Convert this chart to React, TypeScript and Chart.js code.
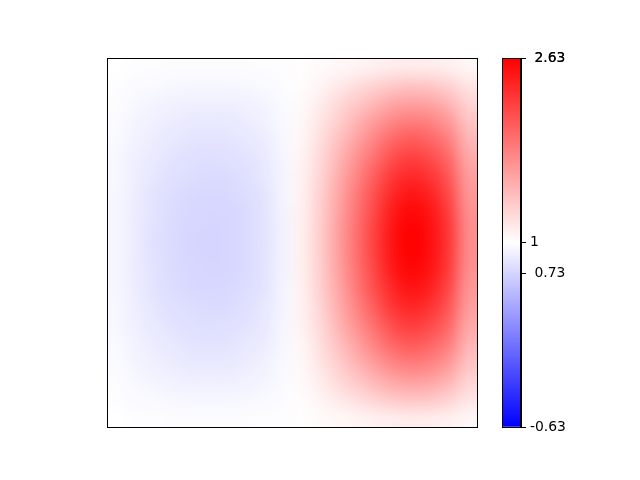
import React, { useEffect, useRef } from "react";
import { Chart, registerables } from "chart.js";

Chart.register(...registerables);

// Colour normalisation (two-slope: blue -> white at 1 -> red)
const VMIN = -0.63;
const VCENTER = 1;
const VMAX = 2.63;

// Field values, rows top -> bottom, columns left -> right (20 x 20)
const zRows: number[][] = [
  [1.00, 0.99, 0.99, 0.98, 0.98, 0.98, 0.98, 0.98, 0.99, 0.99, 1.01, 1.03, 1.05, 1.07, 1.10, 1.12, 1.13, 1.12, 1.10, 1.06],
  [0.99, 0.97, 0.96, 0.95, 0.94, 0.94, 0.94, 0.95, 0.96, 0.98, 1.02, 1.07, 1.14, 1.22, 1.29, 1.35, 1.38, 1.36, 1.29, 1.17],
  [0.98, 0.95, 0.93, 0.91, 0.90, 0.90, 0.90, 0.91, 0.93, 0.97, 1.04, 1.12, 1.24, 1.36, 1.47, 1.58, 1.62, 1.59, 1.48, 1.28],
  [0.97, 0.93, 0.90, 0.88, 0.86, 0.86, 0.86, 0.88, 0.91, 0.96, 1.05, 1.17, 1.32, 1.49, 1.65, 1.79, 1.85, 1.80, 1.66, 1.39],
  [0.96, 0.92, 0.88, 0.85, 0.83, 0.82, 0.83, 0.85, 0.88, 0.95, 1.06, 1.21, 1.40, 1.60, 1.81, 1.99, 2.06, 1.99, 1.82, 1.48],
  [0.95, 0.90, 0.86, 0.82, 0.80, 0.79, 0.80, 0.82, 0.86, 0.94, 1.08, 1.24, 1.47, 1.71, 1.94, 2.16, 2.24, 2.16, 1.96, 1.56],
  [0.95, 0.89, 0.84, 0.80, 0.78, 0.77, 0.77, 0.80, 0.85, 0.93, 1.09, 1.27, 1.53, 1.79, 2.06, 2.30, 2.39, 2.30, 2.07, 1.63],
  [0.94, 0.88, 0.82, 0.78, 0.76, 0.75, 0.76, 0.78, 0.83, 0.93, 1.09, 1.30, 1.57, 1.86, 2.15, 2.40, 2.51, 2.41, 2.16, 1.68],
  [0.94, 0.87, 0.82, 0.77, 0.75, 0.74, 0.74, 0.77, 0.83, 0.92, 1.10, 1.31, 1.60, 1.90, 2.21, 2.48, 2.59, 2.49, 2.23, 1.72],
  [0.94, 0.87, 0.81, 0.77, 0.74, 0.73, 0.74, 0.77, 0.82, 0.92, 1.10, 1.32, 1.62, 1.93, 2.24, 2.52, 2.63, 2.53, 2.26, 1.74],
  [0.94, 0.87, 0.81, 0.77, 0.74, 0.73, 0.74, 0.77, 0.82, 0.92, 1.10, 1.32, 1.62, 1.93, 2.24, 2.52, 2.63, 2.53, 2.26, 1.74],
  [0.94, 0.87, 0.82, 0.77, 0.75, 0.74, 0.74, 0.77, 0.83, 0.92, 1.10, 1.31, 1.60, 1.90, 2.21, 2.48, 2.59, 2.49, 2.23, 1.72],
  [0.94, 0.88, 0.82, 0.78, 0.76, 0.75, 0.76, 0.78, 0.83, 0.93, 1.09, 1.30, 1.57, 1.86, 2.15, 2.40, 2.51, 2.41, 2.16, 1.68],
  [0.95, 0.89, 0.84, 0.80, 0.78, 0.77, 0.77, 0.80, 0.85, 0.93, 1.09, 1.27, 1.53, 1.79, 2.06, 2.30, 2.39, 2.30, 2.07, 1.63],
  [0.95, 0.90, 0.86, 0.82, 0.80, 0.79, 0.80, 0.82, 0.86, 0.94, 1.08, 1.24, 1.47, 1.71, 1.94, 2.16, 2.24, 2.16, 1.96, 1.56],
  [0.96, 0.92, 0.88, 0.85, 0.83, 0.82, 0.83, 0.85, 0.88, 0.95, 1.06, 1.21, 1.40, 1.60, 1.81, 1.99, 2.06, 1.99, 1.82, 1.48],
  [0.97, 0.93, 0.90, 0.88, 0.86, 0.86, 0.86, 0.88, 0.91, 0.96, 1.05, 1.17, 1.32, 1.49, 1.65, 1.79, 1.85, 1.80, 1.66, 1.39],
  [0.98, 0.95, 0.93, 0.91, 0.90, 0.90, 0.90, 0.91, 0.93, 0.97, 1.04, 1.12, 1.24, 1.36, 1.47, 1.58, 1.62, 1.59, 1.48, 1.28],
  [0.99, 0.97, 0.96, 0.95, 0.94, 0.94, 0.94, 0.95, 0.96, 0.98, 1.02, 1.07, 1.14, 1.22, 1.29, 1.35, 1.38, 1.36, 1.29, 1.17],
  [1.00, 0.99, 0.99, 0.98, 0.98, 0.98, 0.98, 0.98, 0.99, 0.99, 1.01, 1.03, 1.05, 1.07, 1.10, 1.12, 1.13, 1.12, 1.10, 1.06],
];

// Colorbar ticks
const cbTickValues = [-0.63, 0.73, 1, 2.63, 2.63];
const cbTickLabels = ["-0.63", " 0.73", "1", " 2.63", " 2.63"];

const FONT = { family: "'DejaVu Sans', sans-serif", size: 13.9 };

function norm(v: number): number {
  if (v < VCENTER) return 0.5 * (v - VMIN) / (VCENTER - VMIN);
  return 0.5 + 0.5 * (v - VCENTER) / (VMAX - VCENTER);
}

function bwr(t: number): [number, number, number] {
  const c = Math.max(0, Math.min(1, t));
  if (c < 0.5) {
    const s = c / 0.5;
    return [Math.round(255 * s), Math.round(255 * s), 255];
  }
  const s = (c - 0.5) / 0.5;
  return [255, Math.round(255 * (1 - s)), Math.round(255 * (1 - s))];
}

const heatmapPlugin = {
  id: "heatmap",
  beforeDatasetsDraw(chart: any) {
    const { ctx, chartArea, scales } = chart;
    const nRows = zRows.length;
    const nCols = zRows[0].length;
    const off = document.createElement("canvas");
    off.width = nCols;
    off.height = nRows;
    const octx = off.getContext("2d")!;
    const img = octx.createImageData(nCols, nRows);
    for (let r = 0; r < nRows; r++) {
      for (let c = 0; c < nCols; c++) {
        const [R, G, B] = bwr(norm(zRows[r][c]));
        const i = (r * nCols + c) * 4;
        img.data[i] = R;
        img.data[i + 1] = G;
        img.data[i + 2] = B;
        img.data[i + 3] = 255;
      }
    }
    octx.putImageData(img, 0, 0);
    const x0 = scales.x.getPixelForValue(0);
    const x1 = scales.x.getPixelForValue(nCols);
    const y0 = scales.y.getPixelForValue(0);
    const y1 = scales.y.getPixelForValue(nRows);
    ctx.save();
    ctx.beginPath();
    ctx.rect(chartArea.left, chartArea.top, chartArea.right - chartArea.left, chartArea.bottom - chartArea.top);
    ctx.clip();
    ctx.imageSmoothingEnabled = true;
    (ctx as any).imageSmoothingQuality = "high";
    ctx.drawImage(off, Math.min(x0, x1), Math.min(y0, y1), Math.abs(x1 - x0), Math.abs(y1 - y0));
    ctx.restore();
  },
  afterDraw(chart: any) {
    const { ctx, chartArea } = chart;
    ctx.save();
    ctx.strokeStyle = "#000";
    ctx.lineWidth = 1;
    ctx.strokeRect(chartArea.left - 0.5, chartArea.top + 0.5, chartArea.right - chartArea.left + 1, chartArea.bottom - chartArea.top);
    ctx.restore();
  },
};

const frameOnly = {
  id: "cbframe",
  afterDatasetsDraw(chart: any) {
    const { ctx, chartArea } = chart;
    ctx.save();
    ctx.strokeStyle = "#000";
    ctx.lineWidth = 1;
    ctx.strokeRect(chartArea.left + 0.5, chartArea.top + 0.5, chartArea.right - chartArea.left - 1, chartArea.bottom - chartArea.top);
    ctx.restore();
  },
};

export default function App() {
  const mainRef = useRef<HTMLCanvasElement>(null);
  const cbRef = useRef<HTMLCanvasElement>(null);

  useEffect(() => {
    const nRows = zRows.length;
    const nCols = zRows[0].length;
    const main = new Chart(mainRef.current!, {
      type: "scatter",
      data: { datasets: [] },
      plugins: [heatmapPlugin],
      options: {
        animation: false,
        responsive: false,
        devicePixelRatio: 1,
        layout: { padding: { left: 108, top: 58, right: 163, bottom: 53 } },
        plugins: { legend: { display: false }, tooltip: { enabled: false } },
        scales: {
          x: { type: "linear", min: 0, max: nCols, display: false },
          y: { type: "linear", min: 0, max: nRows, reverse: true, display: false },
        },
      },
    });

    const cb = new Chart(cbRef.current!, {
      type: "bar",
      data: {
        labels: ["colorbar"],
        datasets: [
          {
            data: [[0, 1]] as any,
            barPercentage: 1,
            categoryPercentage: 1,
            borderWidth: 0,
            backgroundColor: (c: any) => {
              const chart = c.chart;
              const ys = chart.scales && chart.scales.y;
              if (!chart.chartArea || !ys) return "#fff";
              const g = chart.ctx.createLinearGradient(0, ys.getPixelForValue(0), 0, ys.getPixelForValue(1));
              g.addColorStop(0, "rgb(0,0,255)");
              g.addColorStop(0.5, "rgb(255,255,255)");
              g.addColorStop(1, "rgb(255,0,0)");
              return g;
            },
          },
        ],
      },
      plugins: [frameOnly],
      options: {
        animation: false,
        responsive: false,
        devicePixelRatio: 1,
        layout: { padding: { left: 502, top: 58, right: 59, bottom: 53 } },
        plugins: { legend: { display: false }, tooltip: { enabled: false } },
        scales: {
          x: { type: "category", display: false },
          y: {
            type: "linear",
            position: "right",
            min: 0,
            max: 1,
            afterBuildTicks: (axis: any) => {
              axis.ticks = cbTickValues.map((v) => ({ value: norm(v) }));
            },
            afterFit: (axis: any) => {
              axis.width = 60;
            },
            grid: { drawOnChartArea: false, drawTicks: true, tickLength: 5, color: "#000", tickColor: "#000", tickWidth: 1 },
            border: { display: true, color: "#000", width: 1 },
            ticks: {
              autoSkip: false,
              padding: 4,
              color: "#000",
              font: FONT,
              callback: (_v: any, i: number) => cbTickLabels[i],
            },
          },
        },
      },
    });

    return () => {
      main.destroy();
      cb.destroy();
    };
  }, []);

  return (
    <div style={{ position: "fixed", left: 0, top: 0, width: 640, height: 480, background: "#fff" }}>
      <canvas ref={mainRef} width={640} height={480} style={{ position: "absolute", left: 0, top: 0 }} />
      <canvas ref={cbRef} width={640} height={480} style={{ position: "absolute", left: 0, top: 0 }} />
    </div>
  );
}
